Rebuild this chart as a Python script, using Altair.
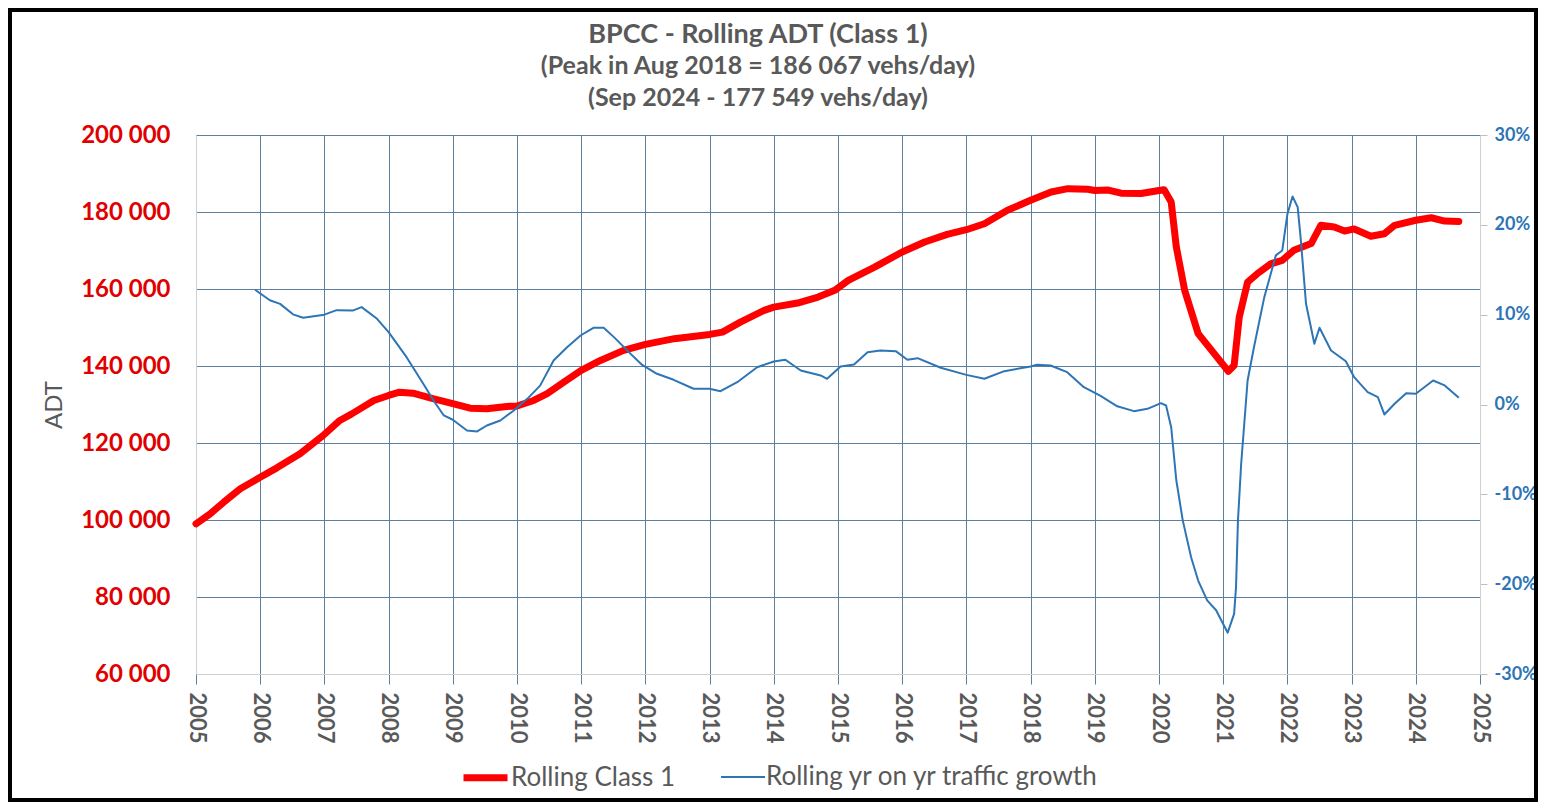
import altair as alt
import pandas as pd

FONT = "Lato"
GRAY = "#595959"
RED = "#ff0000"
BLUE = "#2e75b6"
GRID = "#5f7f9e"
LIGHT = "#d0d0d0"

S1 = "Rolling Class 1"
S2 = "Rolling yr on yr traffic growth"

# Rolling ADT (Class 1), vehicles/day
adt_years = [
    2005.00, 2005.22, 2005.43, 2005.69, 2006.00, 2006.26, 2006.62, 2006.98,
    2007.24, 2007.42, 2007.77, 2008.00, 2008.17, 2008.38, 2008.69, 2009.00,
    2009.27, 2009.53, 2009.84, 2010.00, 2010.26, 2010.47, 2010.73, 2011.00,
    2011.30, 2011.66, 2012.00, 2012.45, 2013.00, 2013.20, 2013.48, 2013.85,
    2014.00, 2014.37, 2014.69, 2014.95, 2015.16, 2015.57, 2016.00, 2016.35,
    2016.70, 2017.00, 2017.28, 2017.64, 2018.00, 2018.32, 2018.58, 2018.89,
    2019.00, 2019.21, 2019.41, 2019.72, 2020.00, 2020.08, 2020.19, 2020.27,
    2020.40, 2020.61, 2020.86, 2021.08, 2021.17, 2021.25, 2021.38, 2021.53,
    2021.74, 2021.92, 2022.10, 2022.37, 2022.52, 2022.73, 2022.89, 2023.04,
    2023.30, 2023.51, 2023.67, 2024.00, 2024.24, 2024.45, 2024.67,
]
adt_values = [
    99000, 101600, 104600, 108100, 111100, 113550, 117200, 121950,
    125850, 127500, 131050, 132350, 133200, 132950, 131500, 130200,
    129050, 128900, 129500, 129600, 131050, 132800, 135800, 138850,
    141450, 144050, 145600, 147100, 148200, 148800, 151400, 154450,
    155300, 156350, 157900, 159650, 162250, 165700, 169600, 172200,
    174200, 175400, 176950, 180450, 183050, 185200, 186067, 185900,
    185600, 185700, 184900, 184800, 185600, 185800, 182600, 170900,
    159650, 148400, 143200, 138650, 140150, 152700, 161800, 163950,
    166550, 167450, 170050, 171800, 176550, 176100, 175050, 175600,
    173700, 174350, 176550, 177850, 178500, 177650, 177549,
]

# Rolling year-on-year traffic growth, %
growth_years = [
    2005.92, 2006.15, 2006.31, 2006.52, 2006.67, 2007.00, 2007.19, 2007.45,
    2007.58, 2007.82, 2008.00, 2008.28, 2008.54, 2008.70, 2008.86, 2009.00,
    2009.22, 2009.38, 2009.53, 2009.74, 2009.95, 2010.16, 2010.36, 2010.57,
    2010.78, 2010.99, 2011.19, 2011.35, 2011.51, 2011.77, 2011.95, 2012.18,
    2012.44, 2012.75, 2013.00, 2013.17, 2013.43, 2013.74, 2014.00, 2014.18,
    2014.42, 2014.73, 2014.83, 2015.04, 2015.25, 2015.46, 2015.66, 2015.90,
    2016.08, 2016.24, 2016.60, 2017.00, 2017.28, 2017.59, 2018.00, 2018.10,
    2018.31, 2018.57, 2018.83, 2019.09, 2019.35, 2019.61, 2019.82, 2020.03,
    2020.11, 2020.19, 2020.27, 2020.37, 2020.50, 2020.61, 2020.75, 2020.89,
    2021.07, 2021.17, 2021.20, 2021.23, 2021.28, 2021.38, 2021.48, 2021.64,
    2021.82, 2021.92, 2022.00, 2022.08, 2022.16, 2022.21, 2022.29, 2022.42,
    2022.50, 2022.68, 2022.91, 2023.04, 2023.25, 2023.41, 2023.51, 2023.67,
    2023.85, 2024.00, 2024.27, 2024.45, 2024.67,
]
growth_values = [
    12.77, 11.6, 11.2, 10.0, 9.65, 10.0, 10.5, 10.47,
    10.84, 9.54, 8.05, 5.27, 2.3, 0.45, -1.22, -1.7,
    -2.9, -3.0, -2.34, -1.78, -0.67, 0.63, 2.1, 4.9,
    6.38, 7.68, 8.54, 8.54, 7.5, 5.64, 4.4, 3.42,
    2.75, 1.75, 1.75, 1.48, 2.48, 4.15, 4.79, 4.98,
    3.79, 3.23, 2.86, 4.23, 4.45, 5.82, 6.0, 5.94,
    4.98, 5.16, 4.09, 3.3, 2.86, 3.71, 4.23, 4.42,
    4.34, 3.6, 1.93, 0.95, -0.2, -0.74, -0.48, 0.15,
    -0.11, -2.53, -8.46, -12.9, -17.0, -19.6, -21.8, -22.9,
    -25.4, -23.3, -20.3, -12.9, -6.6, 2.67, 6.4, 11.95,
    16.6, 17.15, 21.2, 23.16, 21.97, 18.26, 11.21, 6.76,
    8.54, 6.01, 4.82, 3.04, 1.37, 0.81, -1.11, 0.08,
    1.26, 1.19, 2.67, 2.12, 0.74,
]

x_ticks = list(range(2005, 2026))
adt_ticks = [60000, 80000, 100000, 120000, 140000, 160000, 180000, 200000]
pct_ticks = [-30, -20, -10, 0, 10, 20, 30]

title_text = "BPCC - Rolling ADT (Class 1)"
subtitle_lines = ["(Peak in Aug 2018 = 186 067 vehs/day)", "(Sep 2024 - 177 549 vehs/day)"]

df = pd.concat([
    pd.DataFrame({"year": adt_years, "value": adt_values, "series": S1}),
    pd.DataFrame({"year": growth_years, "value": growth_values, "series": S2}),
], ignore_index=True)

legend_kw = dict(
    orient="none", legendX=264, legendY=617, direction="horizontal", title=None,
    symbolType="stroke", symbolSize=1936, labelFontSize=26, labelFont=FONT,
    labelColor=GRAY, labelFontWeight="normal", columnPadding=41, labelOffset=0,
    labelLimit=600, padding=0,
)

color = alt.Color("series:N", scale=alt.Scale(domain=[S1, S2], range=[RED, BLUE]),
                  legend=alt.Legend(**legend_kw))
swidth = alt.StrokeWidth("series:N", scale=alt.Scale(type="ordinal", domain=[S1, S2], range=[7, 2]),
                         legend=alt.Legend(**legend_kw))

x = alt.X("year:Q", scale=alt.Scale(domain=[2005, 2025], nice=False, zero=False),
          axis=alt.Axis(values=x_ticks, format="d", labelAngle=90, title=None, grid=True,
                        gridColor=GRID, gridWidth=1, domainColor=LIGHT, tickColor=GRID,
                        tickSize=10, labelPadding=8, labelFontSize=22, labelFont=FONT,
                        labelFontWeight="bold", labelColor=GRAY, labelFlush=False,
                        labelOverlap=False))

base = alt.Chart(df)

red = base.transform_filter(alt.datum.series == S1).mark_line(strokeCap="round", strokeJoin="round").encode(
    x=x,
    y=alt.Y("value:Q", scale=alt.Scale(domain=[60000, 200000], nice=False, zero=False),
            axis=alt.Axis(values=adt_ticks, labelExpr="replace(format(datum.value, ','), ',', ' ')",
                          title="ADT", titleColor=GRAY, titleFontSize=24, titleFont=FONT,
                          titleFontWeight="normal", titlePadding=14, labelColor="#e00000",
                          labelFontSize=24, labelFont=FONT, labelFontWeight="bold",
                          labelPadding=26, ticks=False, grid=True, gridColor=GRID,
                          domainColor=LIGHT, orient="left")),
    color=color,
    strokeWidth=swidth,
)

blue = base.transform_filter(alt.datum.series == S2).mark_line(strokeJoin="round").encode(
    x=x,
    y=alt.Y("value:Q", scale=alt.Scale(domain=[-30, 30], nice=False, zero=False),
            axis=alt.Axis(values=pct_ticks, labelExpr="datum.value + '%'", orient="right",
                          grid=False, tickSize=7, tickColor="#bfbfbf", domainColor=LIGHT,
                          labelColor=BLUE, labelFontSize=18, labelFont=FONT,
                          labelFontWeight="bold", labelPadding=7, title=None)),
    color=color,
    strokeWidth=swidth,
)

frame = alt.Chart(pd.DataFrame({"f": [0]})).mark_rect(
    fill="transparent", stroke="black", strokeWidth=4
).encode(x=alt.value(-186), x2=alt.value(1340), y=alt.value(-125), y2=alt.value(665))

chart = alt.layer(red, blue, frame).resolve_scale(y="independent").properties(
    width=1284, height=539,
    padding={"left": 188, "top": 127, "right": 58, "bottom": 128},
    autosize=alt.AutoSizeParams(type="none"),
    title=alt.TitleParams(
        text=title_text, subtitle=subtitle_lines, anchor="middle", dx=-80, dy=104,
        font=FONT, fontSize=27, fontWeight="bold", color=GRAY,
        subtitleFont=FONT, subtitleFontSize=25, subtitleFontWeight="bold",
        subtitleColor=GRAY, subtitlePadding=5, subtitleLineHeight=32, offset=0,
    ),
).configure_view(stroke=None).configure(background="white")

chart.save("out.html", embed_options={"renderer": "svg", "actions": False})
